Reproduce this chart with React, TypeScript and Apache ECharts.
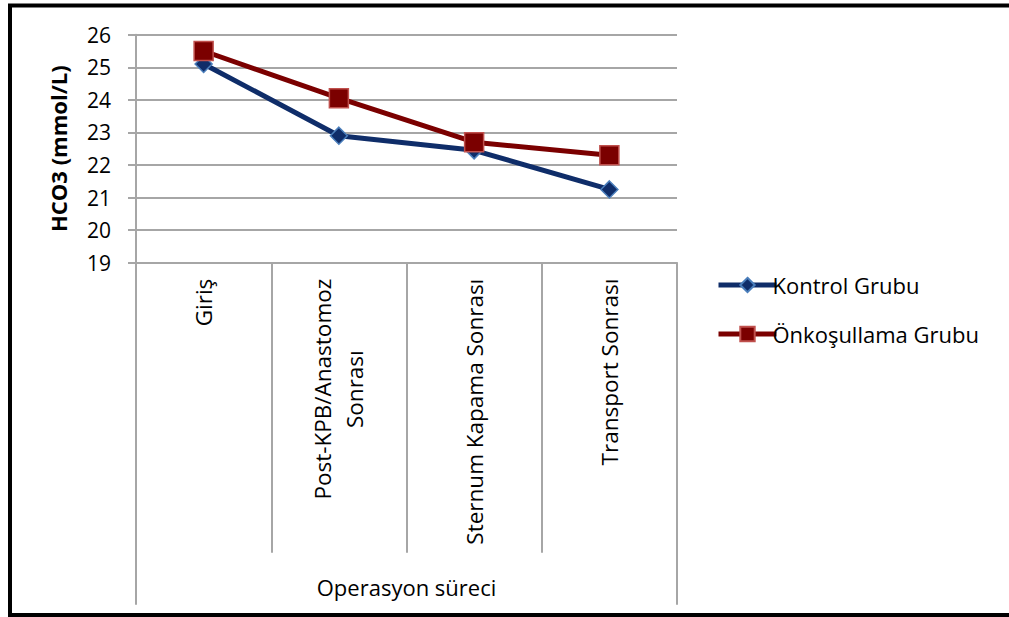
import React, { useEffect, useRef } from "react";
import * as echarts from "echarts";

// Measurement points along the operation timeline
const categories = [
  "Giriş",
  "Post-KPB/Anastomoz\nSonrası",
  "Sternum Kapama Sonrası",
  "Transport Sonrası",
];
const groupLabel = ["Operasyon süreci"];

// HCO3 values (mmol/L)
const kontrolGrubu = [25.1, 22.9, 22.45, 21.25];
const onkosullamaGrubu = [25.5, 24.05, 22.7, 22.3];

const yTicks = { min: 19, max: 26, interval: 1 };

const FONT = "'Open Sans', 'Noto Sans', sans-serif";
const GRID_GRAY = "#a6a6a6";

export default function App() {
  const ref = useRef<HTMLDivElement>(null);

  useEffect(() => {
    document.body.style.margin = "0";
    if (!ref.current) return;
    const chart = echarts.init(ref.current, null, { renderer: "svg" });

    const plotLeft = 136;
    const plotRight = 677;
    const plotTop = 34.7;
    const plotBottom = 262.7;

    chart.setOption({
      animation: false,
      backgroundColor: "#fff",
      textStyle: { fontFamily: FONT },
      grid: {
        left: plotLeft,
        right: 1009 - plotRight,
        top: plotTop,
        height: plotBottom - plotTop,
        containLabel: false,
      },
      legend: {
        orient: "vertical",
        left: 711,
        top: 269,
        itemWidth: 58,
        itemHeight: 18,
        itemGap: 27,
        lineStyle: { width: 5 },
        textStyle: { fontSize: 22, color: "#000", fontFamily: FONT, padding: [0, 0, 0, -9] },
        data: ["Kontrol Grubu", "Önkoşullama Grubu"],
      },
      xAxis: [
        {
          type: "category",
          data: categories,
          boundaryGap: true,
          axisLine: { show: true, lineStyle: { color: GRID_GRAY, width: 2 } },
          axisTick: {
            show: true,
            alignWithLabel: false,
            length: 290,
            lineStyle: { color: GRID_GRAY, width: 2 },
          },
          axisLabel: {
            rotate: 90,
            margin: 16,
            interval: 0,
            color: "#000",
            fontSize: 22,
            fontFamily: FONT,
            formatter: (v: string) =>
              v
                .split("\n")
                .map((l) => `{c|${l}}`)
                .join("\n"),
            rich: {
              c: { align: "center", fontSize: 22.5, lineHeight: 32, fontFamily: FONT, color: "#000" },
            },
          },
        },
        {
          type: "category",
          data: groupLabel,
          position: "bottom",
          boundaryGap: true,
          axisLine: { show: false },
          axisTick: {
            show: true,
            alignWithLabel: false,
            length: 342,
            lineStyle: { color: GRID_GRAY, width: 2 },
          },
          axisLabel: {
            margin: 313,
            color: "#000",
            fontSize: 22,
            fontFamily: FONT,
          },
        },
      ],
      yAxis: {
        type: "value",
        min: yTicks.min,
        max: yTicks.max,
        interval: yTicks.interval,
        name: "HCO3 (mmol/L)",
        nameLocation: "middle",
        nameGap: 67,
        nameTextStyle: { fontSize: 22, fontWeight: "bold", color: "#000", fontFamily: FONT },
        axisLine: { show: true, lineStyle: { color: GRID_GRAY, width: 2 } },
        axisTick: { show: true, length: 8, lineStyle: { color: GRID_GRAY, width: 2 } },
        axisLabel: { margin: 25, fontSize: 21, color: "#000", fontFamily: FONT },
        splitLine: { show: true, lineStyle: { color: GRID_GRAY, width: 2 } },
      },
      series: [
        {
          name: "Kontrol Grubu",
          type: "line",
          data: kontrolGrubu,
          symbol: "diamond",
          symbolSize: 17,
          lineStyle: { color: "#0f2d69", width: 5 },
          itemStyle: { color: "#0f2d69", borderColor: "#4a7ebb", borderWidth: 1.5 },
          z: 2,
        },
        {
          name: "Önkoşullama Grubu",
          type: "line",
          data: onkosullamaGrubu,
          symbol: "rect",
          symbolSize: 19,
          lineStyle: { color: "#7b0000", width: 5 },
          itemStyle: { color: "#7b0000", borderColor: "#c0504d", borderWidth: 1.5 },
          z: 3,
        },
      ],
      graphic: [
        {
          type: "rect",
          shape: { x: 10, y: 5.5, width: 1100, height: 609.5 },
          style: { fill: "none", stroke: "#000", lineWidth: 4 },
          silent: true,
          z: 100,
        },
      ],
    });

    return () => chart.dispose();
  }, []);

  return <div ref={ref} style={{ width: 1009, height: 617 }} />;
}
